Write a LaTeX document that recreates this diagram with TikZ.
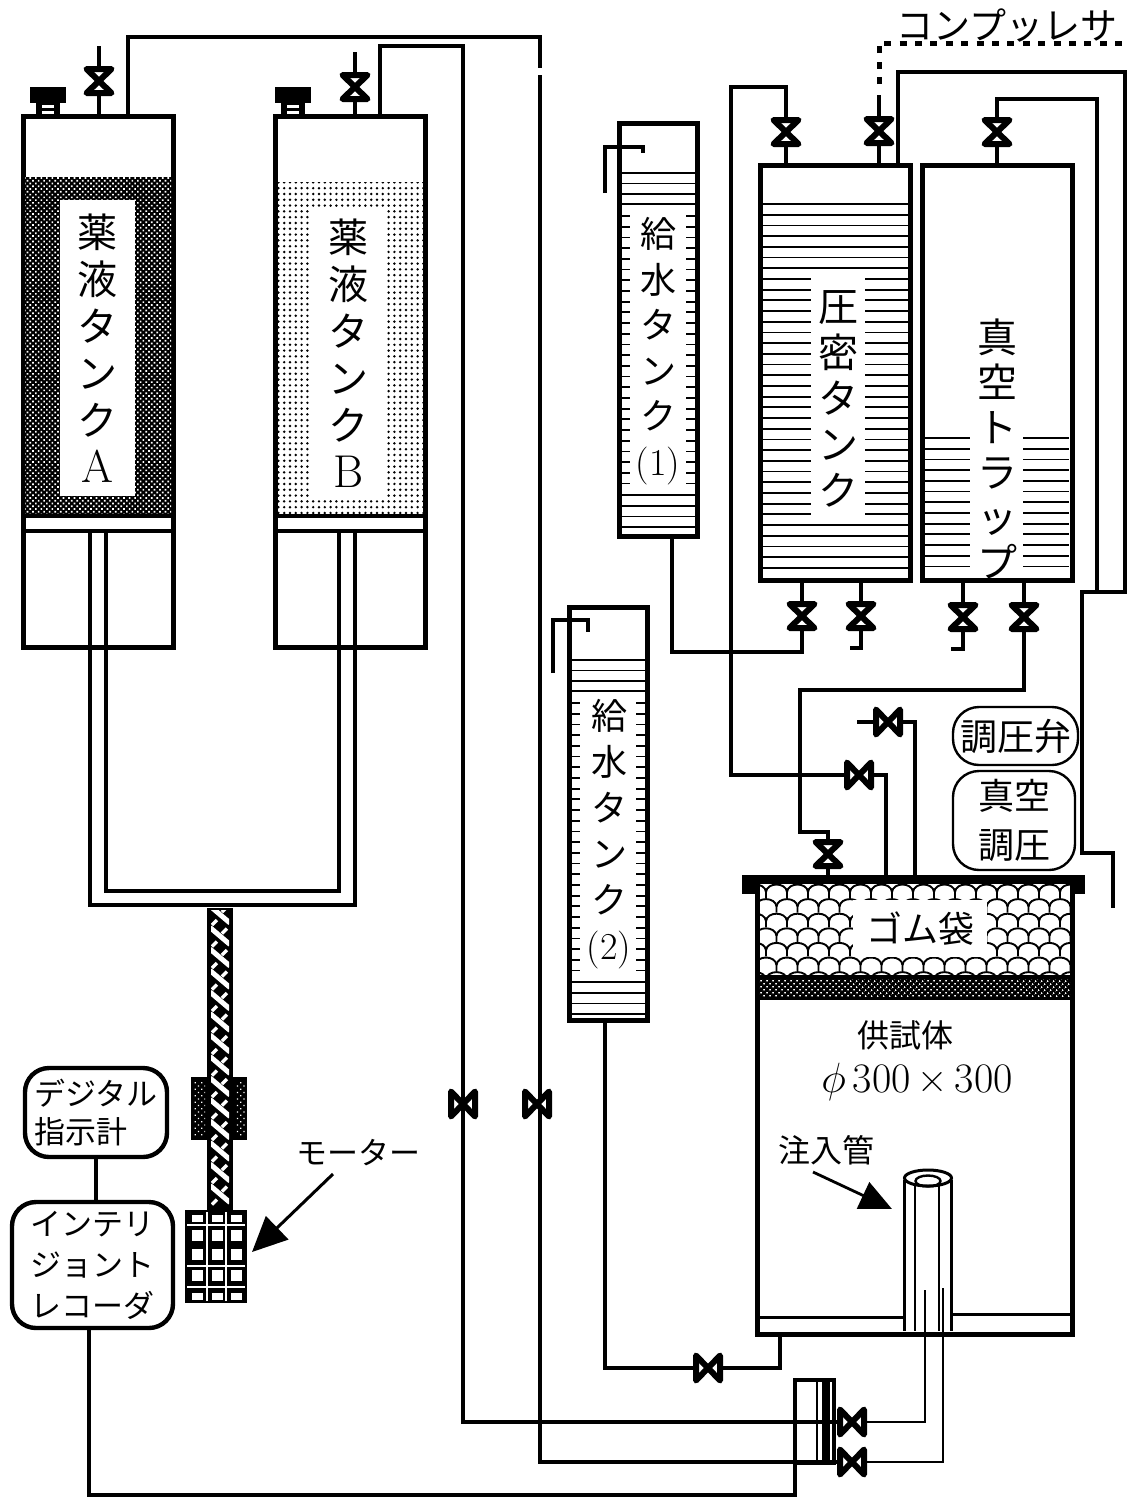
\documentclass[tikz,border=0pt]{standalone}
\usepackage{fontspec}
\usetikzlibrary{arrows.meta,patterns.meta}
\newfontfamily\jp{Noto Sans CJK JP}
\newcommand{\jpsize}[2]{\jp\fontsize{#1}{#2}\selectfont}
\tikzset{
	pipe/.style={line width=4pt},
	thinpipe/.style={line width=2.8pt},
	hookpipe/.style={line width=4.6pt},
	tankbox/.style={draw, fill=white, line width=5pt, inner sep=0pt, outer sep=0pt},
	infobox/.style={draw, line width=4.4pt, rounded corners=24pt, inner sep=0pt, outer sep=0pt},
	valvebox/.style={draw, line width=2.4pt, rounded corners=26pt, inner sep=0pt, outer sep=0pt},
	window/.style={fill=white, inner sep=0pt, align=center},
	hatchline/.style={line width=1.8pt},
	bigarrow/.style={line width=3pt, -{Triangle[width=32pt,length=35pt]}},
	midarrow/.style={line width=2.8pt, -{Triangle[width=29pt,length=32pt]}},
	valve/.pic={\draw[line width=6pt, line join=round, fill=white] (-12.5,-12) -- (12.5,12) -- (-12.5,12) -- (12.5,-12) -- cycle;},
	capscrew/.pic={\fill (-18,-30) rectangle (18,-14); \fill (-12,-14) rectangle (12,0); \fill[white] (-6,-12) rectangle (6,-9); \fill[white] (-6,-6) rectangle (6,-3);},
}
\begin{document}
\begin{tikzpicture}[x=1pt, y=-1pt]
	\useasboundingbox (0,0) rectangle (1134,1499);
	% tanks
	\node[tankbox, minimum width=150pt, minimum height=531pt] (tankA) at (98,381.5) {};
	\node[tankbox, minimum width=150pt, minimum height=531pt] (tankB) at (350,381.5) {};
	\node[tankbox, minimum width=150pt, minimum height=415pt] (tankP) at (835,372.5) {};
	\node[tankbox, minimum width=150pt, minimum height=415pt] (tankV) at (997,372.5) {};
	\node[tankbox, minimum width=78pt, minimum height=413pt] (feedA) at (658,329.5) {};
	\node[tankbox, minimum width=78pt, minimum height=413pt] (feedB) at (608,813.5) {};
	\node[tankbox, minimum width=315pt, minimum height=453pt] (body) at (914.5,1107.5) {};

	% chemical liquid
	\fill[black] (25,177) rectangle (171,516);
	\fill[pattern={Dots[radius=1.2pt, distance=3.9pt, angle=45]}, pattern color=white] (25,177) rectangle (171,514);
	\fill[pattern={Dots[radius=1.35pt, distance=5.8pt]}, pattern color=black] (278,182) rectangle (423,514);
	\foreach \tk/\wx in {tankA/98,tankB/350} {
		\draw[line width=3.6pt] (\tk.west |- 0,516) -- (\tk.east |- 0,516);
		\draw[line width=3.6pt] (\tk.west |- 0,531) -- (\tk.east |- 0,531);
	}

	% water levels
	\foreach \i in {0,...,34} {
		\pgfmathsetmacro\ly{204+10.7*\i}
		\draw[hatchline] (762,\ly) -- (908,\ly);
	}
	\foreach \i in {0,...,12} {
		\pgfmathsetmacro\ly{438+10.7*\i}
		\draw[hatchline] (925,\ly) -- (970,\ly);
		\draw[hatchline] (1023,\ly) -- (1069,\ly);
	}
	\foreach \dx/\dy in {0/0,-50/487} {
		\foreach \i in {0,...,3} {
			\pgfmathsetmacro\ly{173+10.4*\i+\dy}
			\draw[hatchline] (621+\dx,\ly) -- (695+\dx,\ly);
		}
		\foreach \i in {0,...,25} {
			\pgfmathsetmacro\ly{216+10.7*\i+\dy}
			\draw[hatchline] (621+\dx,\ly) -- (630+\dx,\ly);
			\draw[hatchline] (686+\dx,\ly) -- (695+\dx,\ly);
		}
		\foreach \i in {0,...,3} {
			\pgfmathsetmacro\ly{495+10.7*\i+\dy}
			\draw[hatchline] (621+\dx,\ly) -- (695+\dx,\ly);
		}
	}

	% rubber bag
	\begin{scope}
		\clip (759,884) rectangle (1070,975);
		\foreach \r in {0,...,6} {
			\foreach \c in {0,...,15} {
				\pgfmathsetmacro\sx{745+21*\c+10.5*mod(\r,2)}
				\pgfmathsetmacro\sy{892+14.6*\r}
				\draw[line width=1.9pt] (\sx,\sy) .. controls +(1,-10) and +(-1,-10) .. +(21,0) -- +(21,6);
			}
		}
	\end{scope}
	\fill[black] (757,975) rectangle (1072,1000);
	\fill[pattern={Dots[radius=1.1pt, distance=4pt, angle=45]}, pattern color=white] (759,979) rectangle (1070,996);
	\fill (742,875) rectangle (1085,882);
	\fill (742,875) rectangle (755,894);
	\fill (1073,875) rectangle (1085,894);

	% body floor and injection pipe
	\draw[line width=3pt] (759,1317) -- (904,1317);
	\draw[line width=3pt] (950,1314) -- (1070,1314);
	\fill[white] (904,1178) rectangle (950,1331);
	\draw[line width=3pt, fill=white] (928,1178) ellipse (23.5 and 8);
	\draw[line width=2.4pt] (928,1181) ellipse (12.5 and 5.5);
	\draw[line width=3pt] (904,1180) -- (904,1331);
	\draw[line width=3pt] (951,1180) -- (951,1331);
	\draw[line width=2.2pt] (915,1183) -- (915,1331);
	\draw[line width=2.2pt] (939,1183) -- (939,1331);

	% shaft and motor
	\fill (207,908) rectangle (233,1212);
	\begin{scope}
		\clip (211,910) rectangle (229,1212);
		\foreach \i in {0,...,13} {
			\pgfmathsetmacro\ly{906+21.5*\i}
			\draw[white, line width=5pt] (210,\ly) -- (230,\ly+17);
			\draw[white, line width=3.4pt] (212,\ly+19) -- (217,\ly+14);
			\draw[white, line width=3.4pt] (222,\ly+6) -- (227,\ly+1);
		}
	\end{scope}
	\fill (191,1077) rectangle (207,1140);
	\fill (233,1077) rectangle (247,1140);
	\fill[pattern={Dots[radius=0.9pt, distance=4.6pt, angle=45]}, pattern color=white] (194,1082) rectangle (205,1135);
	\fill[pattern={Dots[radius=0.9pt, distance=4.6pt, angle=45]}, pattern color=white] (235,1082) rectangle (245,1135);
	\node[fill=black, minimum width=62pt, minimum height=93pt, inner sep=0pt, outer sep=0pt] (motor) at (216,1256.5) {};
	\foreach \cx in {197,217,236} {
		\foreach \ry/\rh in {1218/7,1235/11,1254/11,1275/11,1296/7} {
			\fill[white] (\cx-5.5,\ry-\rh/2) rectangle (\cx+5.5,\ry+\rh/2);
		}
	}
	\foreach \gx in {207,226} { \draw[white, line width=1.2pt] (\gx,1212) -- (\gx,1301); }
	\foreach \gy in {1225,1266,1287} { \draw[white, line width=1.2pt] (187,\gy) -- (245,\gy); }

	% valve positions
	\coordinate (vA) at (99,81);
	\coordinate (vB) at (355,87);
	\coordinate (vP1) at (786,132);
	\coordinate (vP2) at (879,131);
	\coordinate (vT1) at (997,132);
	\coordinate (vP3) at (802,616);
	\coordinate (vP4) at (861,616);
	\coordinate (vT2) at (963,617);
	\coordinate (vT3) at (1024,617);
	\coordinate (vS1) at (888,722);
	\coordinate (vS2) at (859,775);
	\coordinate (vS3) at (828,854);
	\coordinate (vL1) at (463,1104);
	\coordinate (vL2) at (537,1104);
	\coordinate (vF) at (708,1368);
	\coordinate (vI1) at (852,1422);
	\coordinate (vI2) at (852,1462);

	% double pipe between the tanks
	\draw[pipe] (90,533) -- (90,905) -- (355,905) -- (355,533);
	\draw[pipe] (106,533) -- (106,891) -- (339,891) -- (339,533);

	% pipes
	\draw[pipe] (vA) -- (vA |- tankA.north);
	\draw[pipe] (vA) -- ++(0,-35);
	\draw[pipe] (vB) -- (vB |- tankB.north);
	\draw[pipe] (vB) -- ++(0,-35);
	\draw[pipe] ([xshift=30pt]tankA.north) -- ++(0,-79) -| (540,68);
	\draw[pipe] (540,75) |- (vI2);
	\draw[pipe] ([xshift=30pt]tankB.north) -- ++(0,-70) -| (vL1) |- (vI1);
	\draw[pipe] (vP1) -- (vP1 |- tankP.north);
	\draw[pipe] (vP1) -- ++(0,-45) -| (731,200) -- (731,775) -- (vS2);
	\draw[pipe] (vP2) -- (vP2 |- tankP.north);
	\draw[pipe] (vP2) -- ++(0,-36);
	\draw[line width=5pt, dash pattern=on 7pt off 8.4pt] (879,84) -- (879,43) -- (1128,43);
	\draw[pipe] ([xshift=63pt]tankP.north) -- ++(0,-93) -| (1125,592) -- (1082,592) |- (1113,853) -- (1113,908);
	\draw[pipe] (vT1) -- (vT1 |- tankV.north);
	\draw[pipe] (vT1) -- ++(0,-33) -| (1097,592);
	\draw[pipe] (vP3) -- (vP3 |- tankP.south);
	\draw[pipe] (vP3) |- (672,652) -- ([xshift=14pt]feedA.south);
	\draw[pipe] (vP4) -- (vP4 |- tankP.south);
	\draw[pipe] (vP4) -- ++(0,32) -- ++(-11,0);
	\draw[pipe] (vT2) -- (vT2 |- tankV.south);
	\draw[pipe] (vT2) -- ++(0,32) -- ++(-12,0);
	\draw[pipe] (vT3) -- (vT3 |- tankV.south);
	\draw[pipe] (vT3) |- (800,690) |- (828,832) -- (vS3) -- (828,875);
	\draw[pipe] (vS2) -| (886,875);
	\draw[pipe] (vS1) -- ++(-31,0);
	\draw[pipe] (vS1) -| (915,875);
	\draw[pipe] (vF) -| (780,1333);
	\draw[pipe] (vF) -| ([xshift=-3pt]feedB.south);
	% feed hooks
	\draw[hookpipe] (605,193) |- (643,147) -- (643,153);
	\draw[hookpipe] (553,673) |- (588,620) -- (588,632);

	% connection block
	\draw[line width=3.6pt] (795,1380) rectangle (834,1463);
	\draw[line width=2pt] (817,1380) -- (817,1463);
	\fill (822,1380) rectangle (830,1463);
	\draw[thinpipe] (vI1) -| (925,1333);
	\draw[thinpipe] (vI2) -| (943,1333);
	\draw[thinpipe] (925,1333) -- (925,1290);
	\draw[thinpipe] (943,1333) -- (943,1288);

	% valves
	\foreach \v in {vA,vB,vP1,vP2,vT1,vP3,vP4,vT2,vT3,vS3} { \pic at (\v) {valve}; }
	\foreach \v in {vS1,vS2,vL1,vL2,vF,vI1,vI2} { \pic[rotate=90] at (\v) {valve}; }
	\pic at (48,117) {capscrew};
	\pic at (293,117) {capscrew};

	% labels in the tanks
	\node[window, minimum width=75pt, minimum height=296pt, font=\jpsize{40}{47}] (labA) at (97.5,348) {薬\\液\\タ\\ン\\ク\\{\rmfamily\fontsize{46}{47}\selectfont A}};
	\node[window, minimum width=77pt, minimum height=287pt, font=\jpsize{40}{47}] (labB) at (348.5,353.5) {薬\\液\\タ\\ン\\ク\\{\rmfamily\fontsize{46}{47}\selectfont B}};
	\node[window, minimum width=54pt, minimum height=245pt, font=\jpsize{40}{46}] (labP) at (838,399) {圧\\密\\タ\\ン\\ク};
	\node[font=\jpsize{40}{45}, align=center, inner sep=0pt] (labV) at (997,449) {真\\空\\ト\\ラ\\ッ\\プ};
	\node[font=\jpsize{36}{45.5}, align=center, inner sep=0pt] (labFa) at (658,351) {給\\水\\タ\\ン\\ク\\{\rmfamily\fontsize{38}{45}\selectfont (1)}};
	\node[font=\jpsize{36}{46}, align=center, inner sep=0pt] (labFb) at (609,834) {給\\水\\タ\\ン\\ク\\{\rmfamily\fontsize{38}{45}\selectfont (2)}};
	\node[window, minimum width=134pt, minimum height=57pt, font=\jpsize{36}{40}] (labBag) at (920,928.5) {ゴム袋};

	% other labels
	\node[infobox, minimum width=142pt, minimum height=89pt, font=\jpsize{31}{38}, align=left] (indicator) at (96,1112.5) {デジタル\\指示計};
	\node[infobox, minimum width=161pt, minimum height=126pt, font=\jpsize{31}{41}, align=left] (recorder) at (92.5,1265) {インテリ\\ジョント\\レコーダ};
	\draw[pipe] (indicator) -- (indicator |- recorder.north);
	\draw[pipe] ([xshift=-4pt]recorder.south) -- ++(0,167) -| (795,1463);
	\node[valvebox, minimum width=125pt, minimum height=58pt, font=\jpsize{37}{40}] (valveLab) at (1015.5,736) {調圧弁};
	\node[valvebox, minimum width=122pt, minimum height=99pt, font=\jpsize{36}{49}, align=center] (vacLab) at (1014,820.5) {真空\\調圧};
	\node[font=\jpsize{37}{40}, inner sep=0pt] (compLab) at (1007,26) {コンプッレサ};
	\node[font=\jpsize{31}{36}, inner sep=0pt] (motorLab) at (358,1153) {モーター};
	\node[font=\jpsize{32}{36}, inner sep=0pt] (testLab) at (905,1035) {供試体};
	\node[font=\rmfamily\fontsize{42}{44}\selectfont, inner sep=0pt] (sizeLab) at (917,1082) {\scalebox{1.7}{\(\phi\)}\,300\,×\,300};
	\node[font=\jpsize{32}{36}, inner sep=0pt] (pipeLab) at (826,1150) {注入管};

	% arrows
	\coordinate (motorTail) at (333,1174);
	\coordinate (motorTip) at (252,1252);
	\coordinate (pipeTail) at (813,1172);
	\coordinate (pipeTip) at (892,1209);
	\draw[bigarrow] (motorTail) -- (motorTip);
	\draw[midarrow] (pipeTail) -- (pipeTip);
\end{tikzpicture}
\end{document}
